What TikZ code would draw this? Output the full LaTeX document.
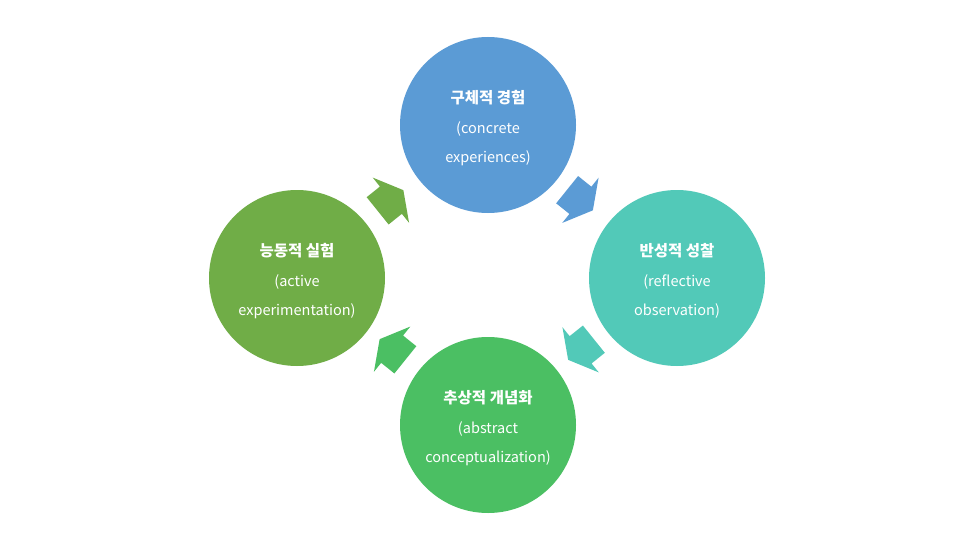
\documentclass[tikz,border=0pt]{standalone}
\usepackage{fontspec}
\setmainfont{Noto Sans CJK KR}
\definecolor{cblue}{HTML}{5B9BD5}
\definecolor{cteal}{HTML}{52C9B8}
\definecolor{cgreen}{HTML}{4BBF63}
\definecolor{colive}{HTML}{70AD47}
\newcommand\cyclearrow[5]{%
  \fill[#5, shift={(#2,#3)}, rotate=#4] (-16.5,-17.5) -- (0.5,-17.5) -- (0.5,-29) -- (16.5,0) -- (0.5,29) -- (0.5,17.5) -- (-16.5,17.5) -- cycle;
  \coordinate (#1) at (#2,#3);}
\begin{document}
\begin{tikzpicture}[x=1pt,y=-1pt,
  circ/.style={circle, minimum size=176pt, inner sep=0pt, draw=none},
  ttl/.style={anchor=base, text=white, inner sep=0pt, font=\fontsize{15.5}{18}\selectfont\bfseries},
  sub/.style={anchor=base, text=white, inner sep=0pt, font=\fontsize{14.5}{18}\selectfont}]
\useasboundingbox[fill=white] (0,0) rectangle (966,543);
% circles
\node[circ, fill=cblue]  (ce) at (488,125) {};
\node[circ, fill=cteal]  (ro) at (677,278) {};
\node[circ, fill=cgreen] (ac) at (488,425) {};
\node[circ, fill=colive] (ae) at (297,278) {};
% texts
\node[ttl] (ce1) at ([yshift=22pt]ce.center) {구체적 경험};
\node[sub] (ce2) at ([yshift=-8pt]ce.center) {(concrete};
\node[sub] (ce3) at ([yshift=-37pt]ce.center) {experiences)};
\node[ttl] (ro1) at ([yshift=22pt]ro.center) {반성적 성찰};
\node[sub] (ro2) at ([yshift=-8pt]ro.center) {(reflective};
\node[sub] (ro3) at ([yshift=-37pt]ro.center) {observation)};
\node[ttl] (ac1) at ([yshift=22pt]ac.center) {추상적 개념화};
\node[sub] (ac2) at ([yshift=-8pt]ac.center) {(abstract};
\node[sub] (ac3) at ([yshift=-37pt]ac.center) {conceptualization)};
\node[ttl] (ae1) at ([yshift=22pt]ae.center) {능동적 실험};
\node[sub] (ae2) at ([yshift=-8pt]ae.center) {(active};
\node[sub] (ae3) at ([yshift=-37pt]ae.center) {experimentation)};
% arrows
\cyclearrow{a1}{580}{200}{-38.8}{cblue}
\cyclearrow{a2}{581}{349.5}{-141.2}{cteal}
\cyclearrow{a3}{392.5}{349.5}{141.2}{cgreen}
\cyclearrow{a4}{390.5}{200.5}{38.8}{colive}
\end{tikzpicture}
\end{document}
